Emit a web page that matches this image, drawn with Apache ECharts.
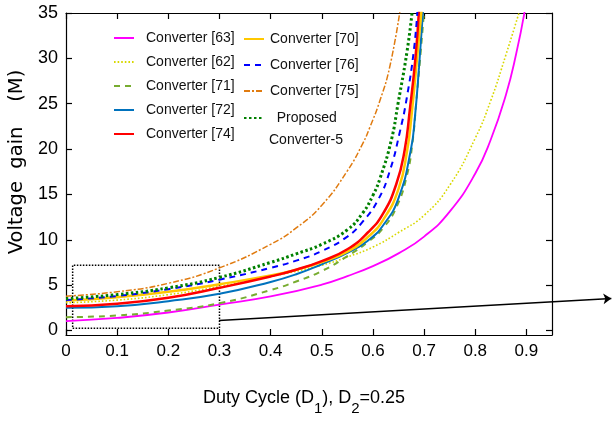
<!DOCTYPE html>
<html><head><meta charset="utf-8">
<script src="https://cdn.jsdelivr.net/npm/echarts@6/dist/echarts.min.js"></script>
<style>html,body{margin:0;padding:0;background:#fff}#c{width:613px;height:421px}</style>
</head><body><div id="c"></div>
<script>
// ---- tick values / labels ----
const xTicks = [0, 0.1, 0.2, 0.3, 0.4, 0.5, 0.6, 0.7, 0.8, 0.9];
const xTickLabels = ['0', '0.1', '0.2', '0.3', '0.4', '0.5', '0.6', '0.7', '0.8', '0.9'];
const yTicks = [0, 5, 10, 15, 20, 25, 30, 35];
const yTickLabels = ['0', '5', '10', '15', '20', '25', '30', '35'];

// ---- series values: [duty cycle D1, voltage gain M] ----
const conv63 = [[0,1.03],[0.1,1.38],[0.2,1.98],[0.3,2.85],[0.4,3.75],[0.5,5.05],[0.55,6.0],[0.6,7.1],[0.65,8.5],[0.7,10.35],[0.75,13.1],[0.8,17.3],[0.83,21.0],[0.86,26.0],[0.88,30.5],[0.897,35.3]];
const conv62 = [[0,3.05],[0.1,3.35],[0.2,3.95],[0.3,4.85],[0.4,5.95],[0.5,7.2],[0.55,8.1],[0.6,9.2],[0.65,10.8],[0.7,12.7],[0.75,16.0],[0.8,21.2],[0.83,25.3],[0.86,30.4],[0.887,35.3]];
const conv71 = [[0,1.47],[0.1,1.65],[0.2,2.2],[0.3,3.0],[0.4,4.45],[0.45,5.4],[0.5,6.55],[0.55,8.2],[0.59,9.75],[0.62,11.3],[0.646,13.6],[0.666,17.0],[0.677,20.6],[0.685,25.4],[0.693,30.5],[0.7,35.3]];
const conv72 = [[0,2.5],[0.1,2.68],[0.2,3.23],[0.3,4.04],[0.4,5.35],[0.45,6.2],[0.5,7.3],[0.55,8.55],[0.59,9.9],[0.62,11.6],[0.65,14.6],[0.674,19.9],[0.682,23.5],[0.69,29.0],[0.698,35.3]];
const conv74 = [[0,2.68],[0.1,2.95],[0.2,3.6],[0.3,4.7],[0.4,5.95],[0.45,6.7],[0.5,7.65],[0.55,8.95],[0.59,10.8],[0.62,12.9],[0.646,16.2],[0.662,19.9],[0.672,24.3],[0.683,30.0],[0.69,35.3]];
const conv70 = [[0,3.3],[0.1,3.67],[0.2,4.26],[0.3,5.1],[0.4,6.05],[0.45,6.7],[0.5,7.55],[0.55,8.7],[0.59,10.3],[0.62,12.2],[0.65,15.6],[0.667,19.9],[0.675,23.5],[0.687,30.5],[0.695,35.3]];
const conv76 = [[0,3.35],[0.1,3.8],[0.2,4.55],[0.3,5.6],[0.4,6.9],[0.45,7.7],[0.5,8.75],[0.55,10.35],[0.58,12.0],[0.61,14.4],[0.633,17.6],[0.653,22.0],[0.666,25.6],[0.68,30.9],[0.687,35.3]];
const conv75 = [[0,3.78],[0.1,4.27],[0.2,5.2],[0.3,6.9],[0.4,9.5],[0.45,11.3],[0.5,13.8],[0.55,17.6],[0.58,20.6],[0.594,22.4],[0.614,25.4],[0.633,29.1],[0.653,35.3]];
const proposed5 = [[0,3.5],[0.1,3.96],[0.2,4.7],[0.3,5.85],[0.4,7.5],[0.45,8.45],[0.5,9.5],[0.55,11.1],[0.58,12.95],[0.6,14.9],[0.614,16.8],[0.636,21.0],[0.649,25.0],[0.667,30.9],[0.677,35.3]];

// ---- annotation (zoom box and arrow) in data units ----
const zoomBox = [[0.013, 0.25], [0.3, 7.2]];
const arrowPath = [[0.299, 1.1], [1.066, 3.53]];

const SANS = "'Liberation Sans',Arial,sans-serif";
const tickFmt = (ticks, labels) => v => {
  const i = ticks.findIndex(t => Math.abs(t - v) < 1e-9);
  return i >= 0 ? labels[i] : '';
};

function lineSeries(name, data, color, width, type, extra) {
  return Object.assign({
    name, type: 'line', data, symbol: 'none', smooth: 0.5,
    clip: true, silent: true,
    lineStyle: { color, width, type, cap: 'butt' },
    itemStyle: { color }
  }, extra || {});
}

const chart = echarts.init(document.getElementById('c'), null, { renderer: 'canvas' });

const legendText = { fontFamily: SANS, fontSize: 14, color: '#111', lineHeight: 20 };
const legendBase = { orient: 'vertical', padding: 0, itemWidth: 20, itemHeight: 14, selectedMode: false,
  itemStyle: { opacity: 0, borderWidth: 0, color: 'rgba(0,0,0,0)' } };
const frameLine = { onZero: false, lineStyle: { color: '#000', width: 1.2 } };
const tickStyle = { color: '#000', width: 1.2 };

chart.setOption({
  animation: false,
  backgroundColor: '#fff',
  grid: { left: 66, right: 61, top: 13, bottom: 86, show: false, outerBoundsMode: 'none', containLabel: false },
  legend: [
    Object.assign({}, legendBase, { data: ['Converter [63]', 'Converter [62]', 'Converter [71]', 'Converter [72]', 'Converter [74]'],
      left: 113, top: 28, itemGap: 4,
      textStyle: Object.assign({ padding: [0, 0, 0, 7] }, legendText) }),
    Object.assign({}, legendBase, { data: ['Converter [70]', 'Converter [76]', 'Converter [75]'],
      left: 243, top: 29, itemGap: 6,
      textStyle: Object.assign({ padding: [0, 0, 0, 1] }, legendText) }),
    Object.assign({}, legendBase, { data: ['Proposed Converter-5'],
      left: 243, top: 85,
      formatter: () => ' \n  Proposed\nConverter-5',
      textStyle: Object.assign({}, legendText, { lineHeight: 22 }) })
  ],
  xAxis: [
    { type: 'value', min: 0, max: 0.95, position: 'bottom',
      axisLine: frameLine,
      axisTick: { inside: true, length: 6, customValues: xTicks, lineStyle: tickStyle },
      axisLabel: { customValues: xTicks, formatter: tickFmt(xTicks, xTickLabels), fontFamily: SANS, fontSize: 17, color: '#000', margin: 8 },
      splitLine: { show: false },
      name: '{n|Duty Cycle (D}{s|1}{n|), D}{s|2}{n|=0.25}',
      nameLocation: 'middle', nameGap: 46,
      nameTextStyle: { rich: {
        n: { fontFamily: SANS, fontSize: 18, color: '#000' },
        s: { fontFamily: SANS, fontSize: 15, color: '#000', padding: [20, 0, 0, 0] }
      }, padding: [0, 10, 0, 0] } },
    { type: 'value', min: 0, max: 0.95, position: 'top',
      axisLine: frameLine,
      axisTick: { inside: true, length: 6, customValues: xTicks, lineStyle: tickStyle },
      axisLabel: { show: false }, splitLine: { show: false } }
  ],
  yAxis: [
    { type: 'value', min: -0.5, max: 35, position: 'left',
      axisLine: frameLine,
      axisTick: { inside: true, length: 6, customValues: yTicks, lineStyle: tickStyle },
      axisLabel: { customValues: yTicks, formatter: tickFmt(yTicks, yTickLabels), fontFamily: SANS, fontSize: 18, color: '#000', margin: 8 },
      splitLine: { show: false },
      name: 'Voltage  gain    (M)', nameLocation: 'middle', nameGap: 36,
      nameTextStyle: { fontFamily: "'DejaVu Sans',sans-serif", fontSize: 19.5, color: '#000', padding: [0, 0, 0, 24] } },
    { type: 'value', min: -0.5, max: 35, position: 'right',
      axisLine: frameLine,
      axisTick: { inside: true, length: 6, customValues: yTicks, lineStyle: tickStyle },
      axisLabel: { show: false }, splitLine: { show: false } }
  ],
  series: [
    lineSeries('Converter [63]', conv63, '#ff00ff', 1.8, 'solid', {
      markArea: { silent: true,
        itemStyle: { color: 'rgba(0,0,0,0)', borderColor: '#000', borderWidth: 1.5, borderType: [1.5, 1.5] },
        data: [[{ coord: zoomBox[0] }, { coord: zoomBox[1] }]] } }),
    lineSeries('Converter [62]', conv62, '#d8d800', 1.6, [1.6, 2]),
    lineSeries('Converter [71]', conv71, '#77ac30', 2, [6, 5]),
    lineSeries('Converter [72]', conv72, '#0072bd', 2, 'solid'),
    lineSeries('Converter [70]', conv70, '#ffc800', 2.5, 'solid'),
    lineSeries('Converter [74]', conv74, '#ff0000', 2.5, 'solid'),
    lineSeries('Converter [76]', conv76, '#0000ff', 2, [6, 5]),
    lineSeries('Converter [75]', conv75, '#e07b10', 1.5, [6, 2, 2, 2]),
    lineSeries('Proposed Converter-5', proposed5, '#008000', 3, [2.5, 2.5]),
    { type: 'lines', coordinateSystem: 'cartesian2d', clip: false, silent: true, z: 5,
      symbol: ['none', 'arrow'], symbolSize: 8,
      lineStyle: { color: '#000', width: 1.5, opacity: 1, curveness: 0 },
      data: [{ coords: arrowPath }] }
  ]
});
</script></body></html>
